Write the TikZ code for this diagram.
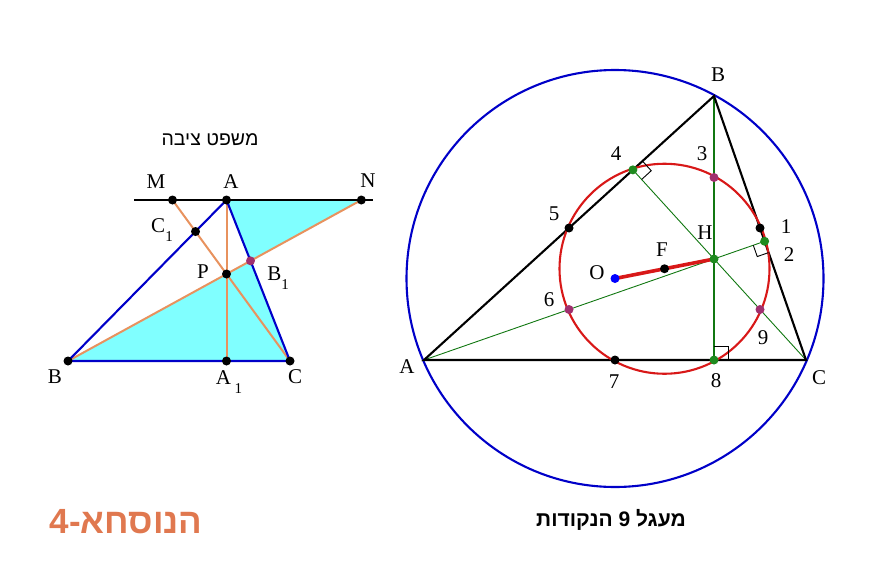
\documentclass[tikz,border=0pt]{standalone}
\usepackage{fontspec}
\setmainfont{Liberation Serif}
\newfontfamily\hebfont[Script=Hebrew]{Liberation Sans}
\TeXXeTstate=1
\usetikzlibrary{calc}
\definecolor{cyanfill}{HTML}{80FFFF}
\definecolor{orangeln}{HTML}{E8925E}
\definecolor{blueln}{HTML}{0000C8}
\definecolor{redln}{HTML}{D81818}
\definecolor{greenln}{HTML}{117711}
\definecolor{greendot}{HTML}{1E8A1E}
\definecolor{purpledot}{HTML}{A0306E}
\definecolor{titleorange}{HTML}{E0784F}
\newcommand{\sbs}[1]{\raisebox{-0.4em}{\fontsize{15}{15}\selectfont #1}}
\begin{document}
\begin{tikzpicture}[x=1pt,y=-1pt,
  lbl/.style={font=\fontsize{21}{21}\selectfont, inner sep=0pt},
  dot/.style={circle, fill=#1, inner sep=0pt, minimum size=9pt},
  dot/.default=black,
  blueedge/.style={draw=blueln, line width=2.1pt},
  orangeedge/.style={draw=orangeln, line width=2pt},
  blackedge/.style={draw=black, line width=2.1pt},
  thingreen/.style={draw=greenln, line width=0.9pt},
  midgreen/.style={draw=greenln, line width=1.15pt},
  rightmark/.style={draw=black, line width=0.9pt}]
\useasboundingbox (0,0) rectangle (875,570);

% ---------- left figure (Ceva) ----------
\coordinate (B) at (68,361);
\coordinate (C) at (290,361);
\coordinate (A) at (226.5,200);
\coordinate (A1) at (226.5,361);
\coordinate (P) at (226.5,274);
\coordinate (L1) at (134,200);
\coordinate (L2) at (373,200);
\coordinate (N) at (intersection of B--P and L1--L2);
\coordinate (M) at (intersection of C--P and L1--L2);
\coordinate (B1) at (intersection of B--N and A--C);
\coordinate (C1) at (intersection of C--M and A--B);

\fill[cyanfill] (A) -- (N) -- (B1) -- cycle;
\fill[cyanfill] (B) -- (B1) -- (C) -- cycle;

\draw[orangeedge] (M) -- (C);
\draw[orangeedge] (A) -- (A1);
\draw[orangeedge] (B) -- (N);
\draw[blueedge] (B) -- (A) -- (C) -- (B);
\draw[blackedge] (L1) -- (L2);

\foreach \p in {M,A,N,C1,P,B,A1,C} \node[dot] at (\p) {};
\node[dot=purpledot] at (B1) {};

\node[lbl] (lM) at (156,182) {M};
\node[lbl] (lA) at (231,182) {A};
\node[lbl] (lN) at (368,181) {N};
\node[lbl] (lC1) at (162,230) {C\sbs{1}};
\node[lbl] (lP) at (203,272) {P};
\node[lbl] (lB1) at (278,278) {B\sbs{1}};
\node[lbl] (lB) at (55,377) {B};
\node[lbl] (lA1) at (229,382) {A\,\sbs{1}};
\node[lbl] (lC) at (295,377) {C};

\node[font=\hebfont\fontsize{19.5}{19.5}\selectfont, inner sep=0pt] (t1) at (210,140) {\beginR משפט ציבה\endR};

% ---------- right figure (nine-point circle) ----------
\coordinate (rA) at (424,360);
\coordinate (rB) at (714,96);
\coordinate (rC) at (806,360);
\coordinate (O) at (615,278.5);
\coordinate (H) at (714,259);
\coordinate (F) at (664.5,268.75);
\coordinate (p1) at ($(rB)!0.5!(rC)$);
\coordinate (p2) at ($(rB)!(rA)!(rC)$);
\coordinate (p3) at ($(rB)!0.5!(H)$);
\coordinate (p4) at ($(rA)!(rC)!(rB)$);
\coordinate (p5) at ($(rA)!0.5!(rB)$);
\coordinate (p6) at ($(rA)!0.5!(H)$);
\coordinate (p7) at ($(rA)!0.5!(rC)$);
\coordinate (p8) at ($(rA)!(rB)!(rC)$);
\coordinate (p9) at ($(rC)!0.5!(H)$);

\draw[blueln, line width=2.1pt] (O) circle[radius=208.5];
\draw[thingreen] (rC) -- (p4);
\draw[thingreen] (rA) -- (p2);
\draw[midgreen] (rB) -- (p8);
\draw[blackedge] (rA) -- (rB) -- (rC) -- cycle;
\draw[redln, line width=2.1pt] (F) circle[radius=105];
\draw[redln, line width=3.6pt] (O) -- (H);

% right-angle marks
\coordinate (u4) at ($(p4)!13pt!(rB)$);
\coordinate (v4) at ($(p4)!13pt!(rC)$);
\draw[rightmark] (u4) -- ($(u4)+(v4)-(p4)$) -- (v4);
\coordinate (u2) at ($(p2)!12pt!(rC)$);
\coordinate (v2) at ($(p2)!12pt!(rA)$);
\draw[rightmark] (u2) -- ($(u2)+(v2)-(p2)$) -- (v2);
\coordinate (u8) at ($(p8)!14pt!(rC)$);
\coordinate (v8) at ($(p8)!14pt!(rB)$);
\draw[rightmark] (u8) -- ($(u8)+(v8)-(p8)$) -- (v8);

\foreach \p in {p1,p5,p7,F} \node[dot] at (\p) {};
\foreach \p in {p2,p4,p8,H} \node[dot=greendot] at (\p) {};
\foreach \p in {p3,p6,p9} \node[dot=purpledot] at (\p) {};
\node[dot=blue] at (O) {};

\node[lbl] (lrB) at (718,75) {B};
\node[lbl] (lrA) at (407,367) {A};
\node[lbl] (lrC) at (819,378) {C};
\node[lbl] (l4) at (616,154) {4};
\node[lbl] (l3) at (702,154) {3};
\node[lbl] (l5) at (554,214) {5};
\node[lbl] (l1) at (786,227) {1};
\node[lbl] (lH) at (705,233) {H};
\node[lbl] (l2) at (789,255) {2};
\node[lbl] (lF) at (662,250) {F};
\node[lbl] (lO) at (597,273) {O};
\node[lbl] (l6) at (549,300) {6};
\node[lbl] (l9) at (763,338) {9};
\node[lbl] (l7) at (614,382) {7};
\node[lbl] (l8) at (716,381) {8};

\node[font=\hebfont\bfseries\fontsize{21}{21}\selectfont, inner sep=0pt] (t2) at (611,520) {\beginR מעגל 9 הנקודות\endR};
\node[font=\hebfont\bfseries\fontsize{35}{35}\selectfont, text=titleorange, inner sep=0pt] (t3) at (126,522) {\beginR הנוסחא-4\endR};
\end{tikzpicture}
\end{document}
